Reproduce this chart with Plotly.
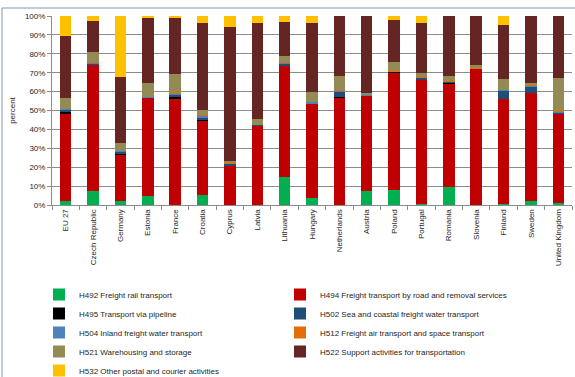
import plotly.graph_objects as go

countries = ["EU 27", "Czech Republic", "Germany", "Estonia", "France", "Croatia", "Cyprus",
             "Latvia", "Lithuania", "Hungary", "Netherlands", "Austria", "Poland", "Portugal",
             "Romania", "Slovenia", "Finland", "Sweden", "United Kingdom"]

h492_rail = [2.3, 7.5, 1.9, 4.7, 0.2, 5.4, 0.0, 0.0, 14.9, 3.5, 0.0, 7.5, 7.9, 0.3, 9.6, 0.0, 0.3, 2.3, 1.0]
h494_road = [46.2, 66.9, 24.9, 52.0, 56.3, 39.4, 20.7, 42.2, 58.8, 50.1, 56.9, 50.3, 62.2, 65.9, 54.8, 72.0, 55.9, 56.9, 47.3]
h495_pipeline = [0.5, 0.0, 0.3, 0.0, 1.0, 0.3, 0.0, 0.0, 0.0, 0.2, 0.3, 0.2, 0.3, 0.0, 0.3, 0.0, 0.0, 0.0, 0.1]
h502_sea = [1.3, 0.3, 1.0, 0.0, 1.0, 1.3, 1.0, 0.2, 1.2, 0.0, 2.8, 0.0, 0.2, 1.0, 0.4, 0.3, 4.2, 3.5, 0.8]
h504_inland = [0.5, 0.5, 0.4, 0.2, 0.3, 0.9, 0.2, 0.0, 0.6, 0.7, 0.8, 0.2, 0.0, 0.2, 0.4, 0.0, 0.5, 0.5, 0.2]
h512_air = [0.2, 0.2, 0.0, 0.0, 0.2, 0.1, 0.3, 0.1, 0.2, 0.2, 0.1, 0.3, 0.1, 0.1, 0.1, 0.2, 0.1, 0.1, 0.2]
h521_warehousing = [5.4, 5.6, 4.4, 7.7, 10.2, 2.7, 1.1, 3.2, 3.3, 5.0, 7.4, 0.7, 4.8, 2.2, 2.7, 1.6, 5.7, 1.5, 17.8]
h522_support = [33.1, 16.2, 35.0, 34.5, 29.7, 46.4, 70.7, 50.8, 17.8, 36.8, 31.7, 40.8, 22.4, 26.8, 31.7, 25.9, 28.7, 35.2, 32.6]
h532_postal = [10.5, 2.8, 32.1, 0.9, 1.1, 3.5, 6.0, 3.5, 3.2, 3.5, 0.0, 0.0, 2.1, 3.5, 0.0, 0.0, 4.6, 0.0, 0.0]

series = [
    ("H492 Freight rail transport", h492_rail, "#00B050"),
    ("H494 Freight transport by road and removal services", h494_road, "#C00000"),
    ("H495 Transport via pipeline", h495_pipeline, "#000000"),
    ("H502 Sea and coastal freight water transport", h502_sea, "#1F4E79"),
    ("H504 Inland freight water transport", h504_inland, "#4F81BD"),
    ("H512 Freight air transport and space transport", h512_air, "#E46C0A"),
    ("H521 Warehousing and storage", h521_warehousing, "#948A54"),
    ("H522 Support activities for transportation", h522_support, "#652523"),
    ("H532 Other postal and courier activities", h532_postal, "#FFC000"),
]

W, H = 575, 377
L, R, T, B = 52, 3, 16, 172
pw, ph = W - L - R, H - T - B

def px_x(x):
    return (x - L) / pw

def px_y(y):
    return (H - B - y) / ph

fig = go.Figure()
for name, vals, color in series:
    fig.add_trace(go.Bar(x=countries, y=vals, name=name, marker_color=color,
                         marker_line_width=0))

font_family = "Liberation Sans, Arial, sans-serif"
fig.update_layout(
    width=W, height=H,
    barmode="stack", bargap=0.58,
    margin=dict(l=L, r=R, t=T, b=B, autoexpand=False),
    paper_bgcolor="white", plot_bgcolor="white",
    font=dict(family=font_family, size=8, color="#262626"),
    showlegend=True,
    legend=dict(orientation="h", traceorder="normal", x=px_x(39), y=px_y(280),
                xanchor="left", yanchor="top",
                entrywidth=196, entrywidthmode="pixels", font=dict(size=8),
                itemwidth=30, tracegroupgap=0, bgcolor="rgba(0,0,0,0)"),
    xaxis=dict(showline=True, linecolor="#8c8c8c", linewidth=1, ticks="outside",
               tickson="boundaries", ticklen=4, tickcolor="#8c8c8c", tickangle=-90,
               tickfont=dict(size=8, color="#262626"), showgrid=False),
    yaxis=dict(range=[0, 100], dtick=10, ticksuffix="%", showline=True, linecolor="#8c8c8c",
               ticks="outside", ticklen=4, tickcolor="#8c8c8c", gridcolor="#8c8c8c",
               gridwidth=1, tickfont=dict(size=8, color="#262626"),
               title=dict(text="percent", font=dict(size=8), standoff=8)),
    shapes=[dict(type="rect", xref="paper", yref="paper",
                 x0=px_x(2), x1=px_x(W + 5), y0=px_y(H + 5), y1=px_y(8),
                 line=dict(color="#8497B0", width=1), fillcolor="rgba(0,0,0,0)", layer="below")],
)

fig.write_html("out.html")
